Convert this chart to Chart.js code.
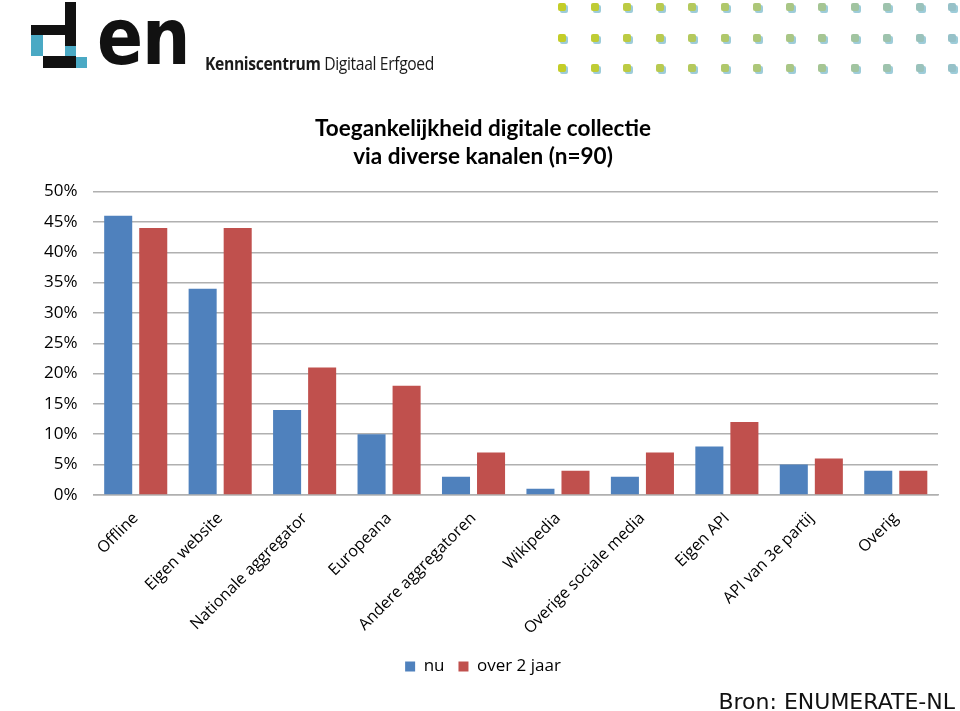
<!DOCTYPE html>
<html>
<head>
<meta charset="utf-8">
<script src="https://cdn.jsdelivr.net/npm/chart.js@4.4.1/dist/chart.umd.min.js"></script>
<style>
  html, body { margin:0; padding:0; background:#fff; }
  #wrap { position:relative; width:960px; height:711px; overflow:hidden; }
  #myChart { position:absolute; left:0; top:0; }
  .blk { position:absolute; background:#111; }
  .cyan { position:absolute; background:#4aa9c4; }
  .dot { position:absolute; width:8px; height:8px; border-radius:2px; }
  #den { position:absolute; left:97px; top:-9px; font:bold 68px "DejaVu Sans"; color:#111; letter-spacing:-1px;
         transform:scaleY(1.16); transform-origin:left top; }
  #kc { position:absolute; left:205px; top:51px; font:18px "Open Sans"; color:#1a1a1a; letter-spacing:-0.4px;
        transform:scaleX(0.87); transform-origin:left top; white-space:nowrap; }
  #bron { position:absolute; right:5px; bottom:-3px; font:22px "DejaVu Sans"; color:#111; }
</style>
</head>
<body>
<div id="wrap">
  <canvas id="myChart" width="960" height="711"></canvas>
  <!-- logo -->
  <div class="blk" style="left:65px;top:2px;width:11px;height:66px"></div>
  <div class="blk" style="left:31px;top:25px;width:34px;height:10px"></div>
  <div class="cyan" style="left:31px;top:35px;width:12px;height:21px"></div>
  <div class="blk" style="left:43px;top:56px;width:22px;height:12px"></div>
  <div class="cyan" style="left:65px;top:46px;width:11px;height:10px"></div>
  <div class="cyan" style="left:76px;top:57px;width:11px;height:11px"></div>
  <div id="den">en</div>
  <div id="kc"><b>Kenniscentrum</b> Digitaal Erfgoed</div>
  <div id="bron">Bron: ENUMERATE-NL</div>
</div>
<script>
// categories and values (percent)
var kanalen = ["Offline","Eigen website","Nationale aggregator","Europeana","Andere aggregatoren",
               "Wikipedia","Overige sociale media","Eigen API","API van 3e partij","Overig"];
var nu        = [46, 34, 14, 10, 3, 1, 3, 8, 5, 4];
var over2jaar = [44, 44, 21, 18, 7, 4, 7, 12, 6, 4];

// decorative dot grid top right
var wrap = document.getElementById("wrap");
for (var r = 0; r < 3; r++) {
  for (var c = 0; c < 13; c++) {
    var d = document.createElement("div");
    d.className = "dot";
    d.style.left = (558 + c * 32.5) + "px";
    d.style.top = (3 + r * 30.5) + "px";
    var t = c / 12;
    var rr = Math.round(195 - t * 45), g = Math.round(205 - t * 12), b = Math.round(40 + t * 160);
    d.style.background = "rgb(" + rr + "," + g + "," + b + ")";
    d.style.boxShadow = "2px 2px 0 rgba(140,195,210,0.85)";
    wrap.appendChild(d);
  }
}

let ctx = document.getElementById("myChart").getContext("2d");
let chart = new Chart(ctx, {
  type: "bar",
  data: {
    labels: kanalen,
    datasets: [
      { label: "nu", data: nu, backgroundColor: "#4f81bd" },
      { label: "over 2 jaar", data: over2jaar, backgroundColor: "#c0504d" }
    ]
  },
  options: {
    responsive: false,
    animation: false,
    layout: { padding: { top: 114, left: 28, right: 22, bottom: 26 } },
    datasets: { bar: { categoryPercentage: 0.83, barPercentage: 0.8 } },
    plugins: {
      title: {
        display: true,
        text: ["Toegankelijkheid digitale collectie", "via diverse kanalen (n=90)"],
        color: "#000",
        font: { family: "Lato", size: 22.5, weight: "bold", lineHeight: 1.28 },
        padding: { top: 0, bottom: 20 }
      },
      legend: {
        position: "bottom",
        labels: {
          boxWidth: 10, boxHeight: 10, color: "#000", padding: 14,
          font: { family: "Open Sans", size: 17 }
        }
      },
      tooltip: { enabled: false }
    },
    scales: {
      x: {
        grid: { display: false },
        border: { color: "#b0b0b0", width: 1.5 },
        ticks: {
          minRotation: 45, maxRotation: 45, autoSkip: false, color: "#000", padding: 6,
          font: { family: "Open Sans", size: 16 }
        }
      },
      y: {
        min: 0, max: 50,
        grid: { color: "#b0b0b0", lineWidth: 1.5, drawTicks: false },
        border: { display: false },
        ticks: {
          stepSize: 5, color: "#000", padding: 16,
          font: { family: "Open Sans", size: 17 },
          callback: function (v) { return v + "%"; }
        }
      }
    }
  }
});
</script>
</body>
</html>
